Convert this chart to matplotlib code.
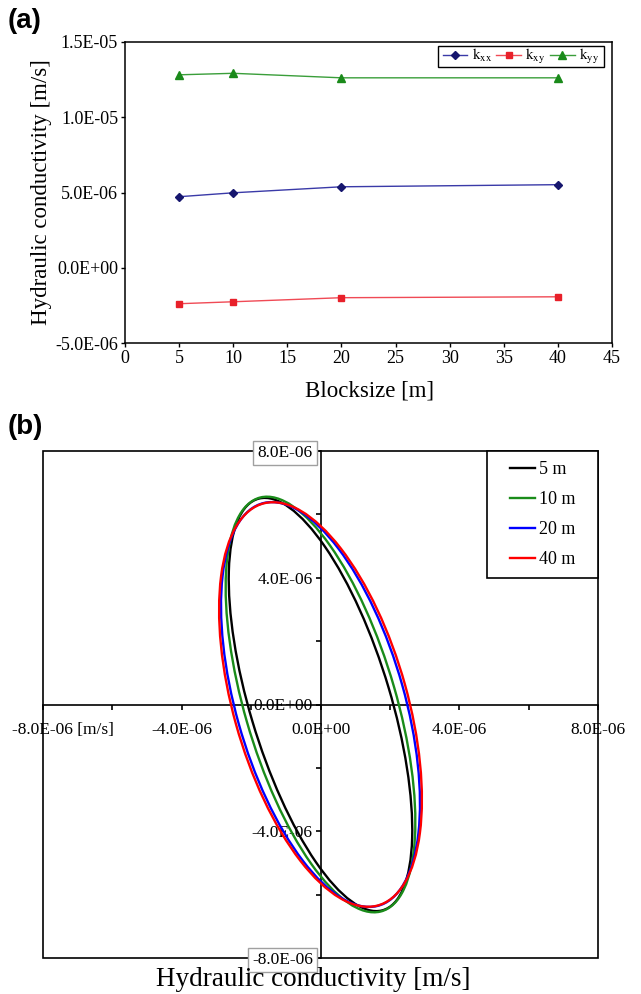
import numpy as np
import matplotlib
matplotlib.use('Agg')
import matplotlib.pyplot as plt
from matplotlib.patches import Ellipse, Rectangle

# Данные: компоненты тензора проводимости для разных размеров блока
BLOCKSIZES = [5, 10, 20, 40]
K_XX = [4.72e-6, 4.98e-6, 5.38e-6, 5.52e-6]
K_XY = [-2.39e-6, -2.26e-6, -1.99e-6, -1.93e-6]
K_YY = [1.282e-5, 1.292e-5, 1.262e-5, 1.262e-5]

A_XTICKS = [0, 5, 10, 15, 20, 25, 30, 35, 40, 45]
A_YTICKS = [-5e-6, 0.0, 5e-6, 1e-5, 1.5e-5]

B_TICKS = [-8e-6, -6e-6, -4e-6, -2e-6, 0.0, 2e-6, 4e-6, 6e-6, 8e-6]
B_XLABELS = ['', '', '-4.0E-06', '', '0.0E+00', '', '4.0E-06', '', '8.0E-06']
B_YLABELS = ['-8.0E-06', '', '-4.0E-06', '', '0.0E+00', '', '4.0E-06', '', '8.0E-06']
ELLIPSE_LABELS = ['5 m', '10 m', '20 m', '40 m']
ELLIPSE_COLORS = ['black', '#1a8c1a', '#0000ff', '#ff0000']

plt.rcParams['font.family'] = ['Liberation Serif', 'DejaVu Serif']
plt.rcParams['mathtext.fontset'] = 'stix'

W, H = 641, 994
fig = plt.figure(figsize=(W / 100, H / 100), dpi=100)


def legend_box(axis, x0, y0, x1, y1, lw):
    # рамка легенды рисуется отдельно, чтобы задать её точный размер
    axis.add_patch(Rectangle((x0, y0), x1 - x0, y1 - y0, transform=axis.transAxes,
                             fc='white', ec='black', lw=lw, clip_on=False, zorder=4))
    return (x0, y0, x1 - x0, y1 - y0)


# --- (a) компоненты тензора ---
ax = fig.add_axes([125 / W, 1 - 343 / H, 487 / W, 301 / H])
ax.plot(BLOCKSIZES, K_XX, color='#3a3aa8', lw=1, marker='D', ms=4.5,
        mfc='#16166e', mec='#16166e', label=r'$\mathrm{k_{xx}}$')
ax.plot(BLOCKSIZES, K_XY, color='#f04a55', lw=1, marker='s', ms=5,
        mfc='#e8202a', mec='#e8202a', label=r'$\mathrm{k_{xy}}$')
ax.plot(BLOCKSIZES, K_YY, color='#3a9e3a', lw=1, marker='^', ms=5.5,
        mfc='#1a8a1a', mec='#1a8a1a', label=r'$\mathrm{k_{yy}}$')

ax.set_xlim(0, 45)
ax.set_ylim(-5e-6, 1.5e-5)
ax.set_xticks(A_XTICKS)
ax.set_yticks(A_YTICKS)
ax.set_yticklabels([f'{v:.1E}' for v in A_YTICKS])
ax.tick_params(direction='out', length=3, width=1, labelsize=13, pad=2)
for sp in ax.spines.values():
    sp.set_linewidth(1.1)

ax.set_ylabel('Hydraulic conductivity [m/s]', fontsize=16.5)
ax.yaxis.set_label_coords(-0.150, 0.5)
ax.set_xlabel('Blocksize [m]', fontsize=16.5)
ax.xaxis.set_label_coords(0.503, -0.125)

box_a = legend_box(ax, 313 / 487, 276 / 301, 479 / 487, 297 / 301, 1.0)
leg = ax.legend(loc='center', bbox_to_anchor=box_a, ncol=3, fontsize=11,
                frameon=False, borderaxespad=0, borderpad=0, handlelength=1.6,
                handletextpad=0.3, columnspacing=0.3)
leg.set_zorder(5)

# --- (b) эллипсы проводимости ---
axb = fig.add_axes([43 / W, 1 - 958 / H, 555 / W, 507 / H])
axb.set_xlim(-8e-6, 8e-6)
axb.set_ylim(-8e-6, 8e-6)

handles = []
for kxx, kxy, kyy, lab, col in zip(K_XX, K_XY, K_YY, ELLIPSE_LABELS, ELLIPSE_COLORS):
    k = np.array([[kxx, kxy], [kxy, kyy]])
    vals, vecs = np.linalg.eigh(k)
    angle = np.degrees(np.arctan2(vecs[1, 1], vecs[0, 1]))
    axb.add_patch(Ellipse((0, 0), width=vals[1], height=vals[0], angle=angle,
                          fill=False, ec=col, lw=1.7, zorder=3))
    handles.append(axb.plot([], [], color=col, lw=1.7, label=lab)[0])

# оси через ноль + рамка
axb.spines['left'].set_position('zero')
axb.spines['bottom'].set_position('zero')
axb.spines['top'].set_visible(False)
axb.spines['right'].set_visible(False)
axb.spines['left'].set_linewidth(1.2)
axb.spines['bottom'].set_linewidth(1.2)
axb.add_patch(Rectangle((0, 0), 1, 1, transform=axb.transAxes, fill=False,
                        ec='black', lw=1.2, clip_on=False, zorder=1))

axb.set_xticks(B_TICKS)
axb.set_xticklabels(B_XLABELS)
axb.set_yticks(B_TICKS)
axb.set_yticklabels(B_YLABELS)
axb.tick_params(direction='out', length=3.5, width=1.2, labelsize=12.5)
axb.tick_params(axis='x', pad=9)
axb.tick_params(axis='y', pad=2)
for i in (0, -1):
    axb.get_yticklabels()[i].set_bbox(dict(boxstyle='square,pad=0.25', fc='white',
                                           ec='#a0a0a0', lw=1))

axb.annotate('-8.0E-06 [m/s]', xy=(-8e-6, 0), xytext=(-22, -12.5),
             textcoords='offset points', ha='left', va='top', fontsize=12.5,
             annotation_clip=False)

box_b = legend_box(axb, 444 / 555, 380 / 507, 1.0, 1.0, 1.2)
legb = axb.legend(handles=handles, loc='center', bbox_to_anchor=box_b,
                  fontsize=13, frameon=False, borderaxespad=0, borderpad=0,
                  handlelength=1.4, handletextpad=0.2, labelspacing=0.72)
legb.set_zorder(5)

# подписи панелей
fig.text(8 / W, 1 - 21 / H, '(a)', fontsize=20, fontweight='bold',
         family='Liberation Sans', va='center')
fig.text(8 / W, 1 - 427 / H, '(b)', fontsize=20, fontweight='bold',
         family='Liberation Sans', va='center')
fig.text(313.5 / W, 1 - 979 / H, 'Hydraulic conductivity [m/s]', fontsize=19.5,
         ha='center', va='center')

fig.savefig('out.png', dpi=100)
